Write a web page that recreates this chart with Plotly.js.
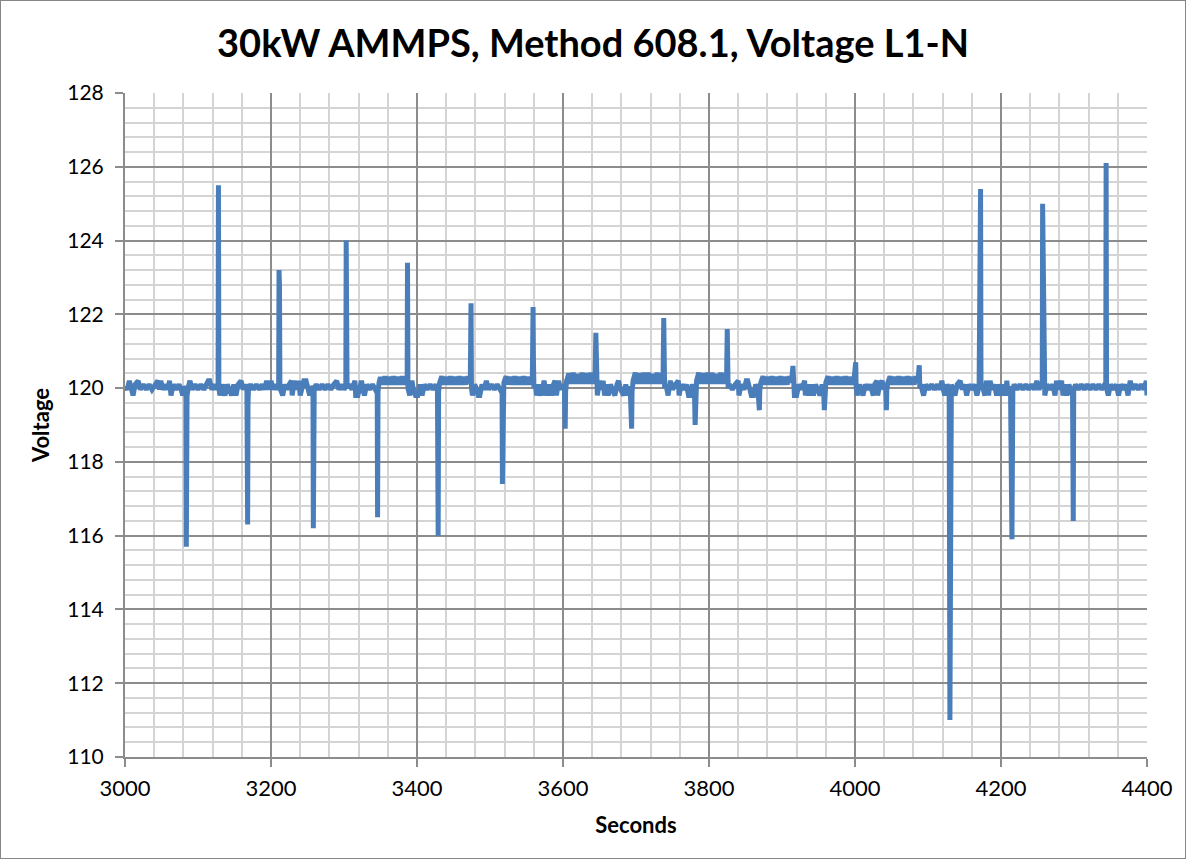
<!DOCTYPE html>
<html>
<head>
<meta charset="utf-8">
<script src="https://cdn.plot.ly/plotly-3.0.1.min.js"></script>
<style>
  html, body { margin:0; padding:0; background:#fff; }
  #chart { width:1184px; height:857px; border:1px solid #868686; }
</style>
</head>
<body>
<div id="chart"></div>
<script>
// Time (s) readings of the voltage trace, one line per interval between events
const seconds = [
  3000,3003,3006,3008,3011,3014,3018,3021,3025,3029,3033,3037,3041,3045,3047,3049,3052,3056,3059,3061,3063,3066,3070,3074,3077,3079,3081, 3083.5,3084,3084.5,3085,
  3087,3089,3092,3096,3100,3104,3108,3112,3114,3116,3119,3123,3126, 3127.5,3128,3128.6,
  3130,3133,3137,3140,3143,3146,3149,3152,3155,3159,3162,3165,3167, 3168,3168.5,3169.2,
  3172,3176,3180,3184,3188,3191,3194,3197,3200,3203,3206,3209, 3210.5,3211,3211.6,3212.2,
  3216,3219,3222,3225,3228,3229,3232,3235,3238,3240,3243,3245,3248,3250,3253,3256, 3257.5,3258,3258.5,3259.2,
  3262,3266,3270,3274,3278,3282,3286,3290,3293,3297,3300, 3302.5,3303,3303.6,3304.2,
  3307,3311,3315,3316,3319,3322,3324,3326,3328,3331,3335,3339,3343, 3345.5,3346,3346.6,
  3348,3350,3353,3356,3359,3362,3365,3368,3371,3374,3377,3380,3383,3386, 3386.5,3387,3387.6,
  3390,3393,3395,3398,3401,3404,3407,3410,3414,3418,3422,3426,3428, 3429,3429.6,
  3431,3434,3437,3440,3443,3446,3449,3452,3455,3458,3461,3464,3467,3470,3473, 3474,3474.6,
  3476,3479,3482,3484,3486,3489,3492,3495,3498,3502,3506,3510,3514, 3516.5,3517,3517.6,
  3519,3522,3525,3528,3531,3534,3537,3540,3543,3546,3549,3552,3555,3558, 3559,3559.5,3560.2,
  3562,3564,3567,3571,3574,3576,3578,3581,3584,3587,3589,3591,3594,3597,3600,3602, 3603,3603.6,
  3605,3608,3611,3614,3617,3620,3623,3626,3629,3632,3635,3638,3641,3644, 3645,3645.6,
  3647,3650,3653,3655,3657,3660,3662,3665,3668,3671,3674,3676,3679,3683,3686,3689,3692, 3694,3694.6,
  3696,3699,3702,3705,3708,3711,3714,3717,3720,3723,3726,3729,3732,3735,3737, 3738,3738.6,3739.2,
  3741,3744,3747,3750,3754,3758,3759,3762,3766,3769,3772,3774,3777,3780, 3781,3781.6,
  3783,3786,3789,3792,3795,3798,3801,3804,3807,3810,3813,3816,3819,3822,3824, 3825,3825.6,3826.2,
  3828,3832,3836,3840,3841,3844,3848,3851,3853,3855,3858,3861,3864,3867, 3869,3869.6,
  3871,3874,3877,3880,3883,3886,3889,3892,3895,3898,3901,3904,3907,3910,3913, 3915,3915.6,
  3917,3920,3923,3927,3931,3932,3935,3938,3940,3943,3946,3949,3952,3955,3957, 3958,3958.6,
  3960,3963,3966,3969,3972,3975,3978,3981,3984,3987,3990,3993,3996,3999, 4001,4001.6,
  4003,4006,4009,4011,4014,4018,4021,4025,4027,4030,4031,4034,4037,4040,4042, 4043,4043.6,
  4045,4048,4051,4054,4057,4060,4063,4066,4069,4072,4075,4078,4081,4084,4086, 4087.5,4088,4088.8,
  4090,4094,4097,4101,4105,4109,4113,4116,4119,4121,4123,4126,4129, 4130,4130.6,
  4132,4137,4140,4144,4147,4150,4153,4156,4160,4164,4167,4170, 4172,4172.6,
  4174,4178,4180,4183,4185,4188,4191,4194,4197,4201,4203,4206,4208,4210,4213, 4215,4215.5,4216.2,
  4218,4222,4226,4230,4234,4238,4242,4246,4249,4252,4255, 4256.5,4257,4257.6,4258.2,
  4260,4263,4267,4271,4274,4276,4279,4283,4285,4288,4290,4293,4296,4298, 4299,4299.6,
  4302,4306,4310,4314,4318,4322,4326,4330,4334,4338,4342, 4343.5,4344,4344.6,
  4347,4350,4354,4358,4361,4364,4368,4371,4374,4377,4380,4384,4388,4392,4396,4399,4400
];
// Voltage L1-N readings (V), same order
const voltage = [
  120.05,119.96,120.2,120.0,119.8,120.1,120.2,119.96,120.1,119.96,120.1,119.96,120.1,120.2,119.96,120.2,119.96,120.1,119.96,120.2,119.8,120.1,119.96,120.1,119.96,119.8,120.05, 119.95,115.7,117.5,119.8,
  120.05,120.2,119.96,120.1,119.96,120.1,119.96,120.1,120.2,120.2,119.96,120.1,119.96, 120.05,125.5,120.0,
  119.8,120.1,119.8,120.1,119.96,119.8,120.1,119.8,120.1,120.2,119.96,120.1,119.96, 116.3,119.6,120.0,
  120.1,119.96,120.1,119.96,120.1,119.96,120.2,119.96,120.2,119.96,120.1,119.96, 120.05,123.2,122.8,120.0,
  119.8,120.1,119.96,120.1,120.2,119.8,120.2,119.96,120.2,119.8,120.1,120.2,120.2,119.96,119.8,120.05, 120.0,116.2,119.5,120.0,
  120.1,119.96,120.1,119.96,120.1,119.96,120.1,120.2,119.96,120.1,119.96, 120.05,124.0,120.9,120.0,
  120.1,119.96,120.2,119.8,119.8,120.1,120.2,119.96,119.8,120.1,119.96,120.1,119.96, 120.0,116.5,119.9,
  120.15,120.3,120.1,120.32,120.1,120.3,120.1,120.32,120.1,120.3,120.1,120.32,120.1,120.3, 120.2,123.4,120.0,
  119.8,120.2,119.96,119.8,119.8,120.1,119.8,120.1,119.96,120.1,119.96,120.1,119.96, 116.0,119.9,
  120.15,120.32,120.1,120.3,120.1,120.32,120.1,120.3,120.1,120.32,120.1,120.3,120.1,120.32,120.15, 122.3,120.0,
  119.8,120.1,119.96,119.8,119.8,120.1,119.96,120.2,119.96,120.1,119.96,120.1,119.96, 120.0,117.4,119.9,
  120.15,120.32,120.1,120.3,120.1,120.32,120.1,120.3,120.1,120.32,120.1,120.3,120.1,120.28, 122.2,120.8,120.0,
  120.1,119.8,120.1,119.8,120.2,119.96,119.8,120.1,119.8,120.1,120.2,119.8,120.2,119.96,120.1,119.96, 118.9,119.9,
  120.2,120.4,120.12,120.42,120.12,120.38,120.12,120.42,120.12,120.4,120.12,120.42,120.12,120.38, 121.5,120.0,
  119.8,120.2,119.96,120.2,119.8,120.1,119.8,120.1,119.96,119.8,120.1,120.2,119.96,119.8,120.1,119.8,120.05, 118.9,119.9,
  120.2,120.42,120.12,120.4,120.12,120.42,120.12,120.42,120.12,120.38,120.12,120.42,120.12,120.4,120.2, 121.9,120.9,120.0,
  120.1,119.8,120.2,119.96,120.1,120.2,119.8,120.1,119.96,120.1,119.8,119.8,120.1,119.96, 119.0,119.9,
  120.2,120.42,120.12,120.4,120.12,120.42,120.12,120.42,120.12,120.38,120.12,120.42,120.12,120.4,120.2, 121.6,120.9,120.0,
  120.1,119.96,120.1,120.2,119.8,120.1,119.96,120.2,120.2,119.96,119.8,119.8,120.1,119.96, 119.4,119.95,
  120.15,120.32,120.1,120.3,120.1,120.32,120.1,120.3,120.1,120.32,120.1,120.3,120.1,120.32,120.15, 120.6,120.0,
  119.8,119.8,120.1,119.96,120.2,119.8,120.1,119.8,120.1,119.8,120.1,119.96,119.8,120.1,119.96, 119.4,119.95,
  120.15,120.32,120.1,120.3,120.1,120.32,120.1,120.3,120.1,120.32,120.1,120.3,120.1,120.3, 120.7,120.0,
  119.8,120.1,119.96,119.8,120.1,119.96,120.1,119.8,120.1,120.2,119.8,120.1,120.2,119.96,120.05, 119.4,119.95,
  120.15,120.32,120.1,120.3,120.1,120.32,120.1,120.3,120.1,120.32,120.1,120.3,120.1,120.32,120.15, 120.55,120.62,120.0,
  120.1,119.8,120.1,119.96,120.1,119.96,120.1,119.96,120.2,119.96,119.8,120.1,119.96, 111.0,119.9,
  120.1,119.8,120.1,120.2,119.96,120.1,119.8,120.1,119.96,120.1,119.8,120.05, 125.4,120.0,
  120.1,119.8,120.2,119.8,120.2,119.96,120.1,119.8,120.1,119.8,120.1,119.8,120.2,119.8,120.05, 115.9,117.4,119.95,
  120.1,119.96,120.1,119.96,120.1,119.96,120.1,119.96,120.2,119.96,120.1, 120.1,125.0,123.7,120.0,
  119.8,120.1,119.96,120.1,119.8,120.2,119.96,120.2,119.8,120.1,119.8,120.1,119.96,119.8, 116.4,119.95,
  120.1,119.96,120.1,119.96,120.1,119.96,120.1,119.96,120.1,119.96,120.1, 120.05,126.1,120.0,
  119.8,120.1,119.96,120.1,119.8,120.1,119.96,120.1,119.8,120.2,119.96,120.1,119.96,120.1,119.96,120.2,119.8
];
if (seconds.length !== voltage.length) console.error('length mismatch', seconds.length, voltage.length);

// Axis gridline positions
const xMinorTicks = [3040,3080,3120,3160,3240,3280,3320,3360,3440,3480,3520,3560,3640,3680,3720,3760,
                     3840,3880,3920,3960,4040,4080,4120,4160,4240,4280,4320,4360];
const yMinorTicks = [110.4,110.8,111.2,111.6,112.4,112.8,113.2,113.6,114.4,114.8,115.2,115.6,
                     116.4,116.8,117.2,117.6,118.4,118.8,119.2,119.6,120.4,120.8,121.2,121.6,
                     122.4,122.8,123.2,123.6,124.4,124.8,125.2,125.6,126.4,126.8,127.2,127.6];

const chartTitle = '30kW AMMPS, Method 608.1, Voltage L1-N';
const xTitle = 'Seconds';
const yTitle = 'Voltage';

const FONT = 'Lato, "Open Sans", sans-serif';
const MAJOR = '#8c8c8c';
const MINOR = '#d4d4d4';

const trace = {
  type: 'scatter', mode: 'lines',
  x: seconds, y: voltage,
  line: { color: '#4a7ebb', width: 5 },
  hoverinfo: 'skip', showlegend: false
};

const layout = {
  width: 1184, height: 857,
  margin: { l: 124, r: 38, t: 92, b: 101, pad: 0 },
  paper_bgcolor: '#ffffff', plot_bgcolor: '#ffffff',
  font: { family: FONT, color: '#000000' },
  title: {
    text: '<b>' + chartTitle + '</b>',
    font: { family: FONT, size: 38, color: '#000000' },
    x: 0.5, xref: 'container', xanchor: 'center',
    y: 0.95, yref: 'container', yanchor: 'middle'
  },
  xaxis: {
    range: [3000, 4400], tick0: 3000, dtick: 200,
    showgrid: true, gridcolor: MAJOR, gridwidth: 2,
    minor: { tickmode: 'array', tickvals: xMinorTicks, showgrid: true, gridcolor: MINOR, gridwidth: 2, ticks: '' },
    ticks: 'outside', ticklen: 8, tickcolor: MAJOR, tickwidth: 2,
    showline: true, linecolor: MAJOR, linewidth: 2,
    zeroline: false,
    tickfont: { family: FONT, size: 22, color: '#000' },
    ticklabelstandoff: 3,
    title: { text: '<b>' + xTitle + '</b>', font: { family: FONT, size: 22, color: '#000' }, standoff: 17 }
  },
  yaxis: {
    range: [110, 128], tick0: 110, dtick: 2,
    showgrid: true, gridcolor: MAJOR, gridwidth: 2,
    minor: { tickmode: 'array', tickvals: yMinorTicks, showgrid: true, gridcolor: MINOR, gridwidth: 2, ticks: '' },
    ticks: 'outside', ticklen: 8, tickcolor: MAJOR, tickwidth: 2,
    showline: true, linecolor: MAJOR, linewidth: 2,
    zeroline: false,
    tickfont: { family: FONT, size: 21, color: '#000' },
    ticklabelstandoff: 7,
    title: { text: '<b>' + yTitle + '</b>', font: { family: FONT, size: 22, color: '#000' }, standoff: 12 }
  }
};

Plotly.newPlot('chart', [trace], layout, { displayModeBar: false, staticPlot: true });
</script>
</body>
</html>
